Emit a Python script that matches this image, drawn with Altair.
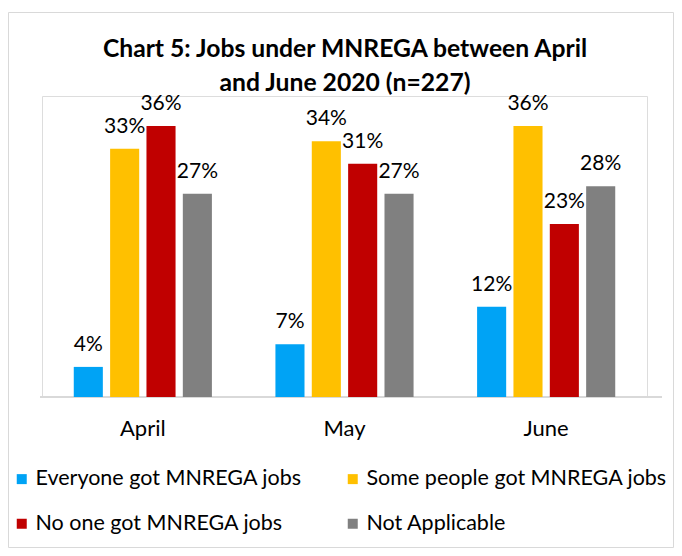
import altair as alt
import pandas as pd

months = ["April", "May", "June"]
categories = [
    "Everyone got MNREGA jobs",
    "Some people got MNREGA jobs",
    "No one got MNREGA jobs",
    "Not Applicable",
]
everyone = [4, 7, 12]
some_people = [33, 34, 36]
no_one = [36, 31, 23]
not_applicable = [27, 27, 28]
colors = ["#00A3F5", "#FFC000", "#C00000", "#808080"]
title_lines = ["Chart 5: Jobs under MNREGA between April", "and June 2020 (n=227)"]

rows = []
for i, m in enumerate(months):
    for cat, vals in zip(categories, [everyone, some_people, no_one, not_applicable]):
        rows.append({"month": m, "category": cat, "value": vals[i], "label": f"{vals[i]}%"})
df = pd.DataFrame(rows)

# legend lays entries out column by column: order so rows read as in the reference
legend_order = [categories[0], categories[2], categories[1], categories[3]]
legend_colors = [colors[0], colors[2], colors[1], colors[3]]

FONT = "Lato"

x_enc = alt.X(
    "month:N",
    sort=months,
    scale=alt.Scale(paddingInner=0.315, paddingOuter=0.1575),
    axis=alt.Axis(
        title=None,
        labelAngle=0,
        ticks=False,
        tickSize=0,
        domain=False,
        labelFontSize=22,
        labelFont=FONT,
        labelColor="#000000",
        labelPadding=21,
    ),
)
xoff_enc = alt.XOffset(
    "category:N", sort=categories, scale=alt.Scale(paddingInner=0.2, paddingOuter=0)
)
y_enc = alt.Y(
    "value:Q",
    scale=alt.Scale(domain=[0, 40], nice=False),
    axis=None,
)

base = alt.Chart(df)

bars = base.mark_bar().encode(
    x=x_enc,
    xOffset=xoff_enc,
    y=y_enc,
    color=alt.Color(
        "category:N",
        scale=alt.Scale(domain=legend_order, range=legend_colors),
        legend=alt.Legend(
            title=None,
            orient="none",
            legendX=-31,
            legendY=372,
            columns=2,
            columnPadding=40,
            rowPadding=22,
            symbolType="square",
            symbolSize=100,
            symbolStrokeWidth=0,
            labelFontSize=21.5,
            labelFont=FONT,
            labelColor="#000000",
            labelOffset=3,
            labelLimit=500,
            padding=0,
        ),
    ),
)

labels = base.mark_text(
    baseline="alphabetic", dy=-16, fontSize=21, font=FONT, color="#000000"
).encode(
    x=x_enc,
    xOffset=xoff_enc,
    y=y_enc,
    text="label:N",
)

title_df = pd.DataFrame({"line": title_lines, "idx": [0, 1]})
title = alt.Chart(title_df).mark_text(
    fontSize=24.7, font=FONT, fontWeight="bold", color="#000000", baseline="alphabetic",
    align="center",
).encode(
    x=alt.value(303),
    y=alt.Y("idx:Q", axis=None, scale=alt.Scale(domain=[0, 1], range=[-39, -5])),
    text="line:N",
)

baseline_rule = alt.Chart(alt.Data(values=[{}])).mark_rule(
    color="#d9d9d9", strokeWidth=2
).encode(x=alt.value(-2), x2=alt.value(620), y=alt.value(301))

frame = alt.Chart(alt.Data(values=[{}])).mark_rect(
    fillOpacity=0, stroke="#d9d9d9", strokeWidth=1
).encode(
    x=alt.value(-33.5), x2=alt.value(631.5), y=alt.value(-83.5), y2=alt.value(451.5)
)

chart = (
    alt.layer(frame, baseline_rule, bars, labels, title)
    .resolve_scale(y="independent")
    .properties(
        width=605,
        height=301,
        autosize=alt.AutoSizeParams(type="none"),
        padding={"left": 34, "top": 88, "right": 27, "bottom": 151},
    )
    .configure_view(strokeWidth=0)
    .configure(background="white")
)

chart.save("out.html", embed_options={"renderer": "svg", "actions": False})
